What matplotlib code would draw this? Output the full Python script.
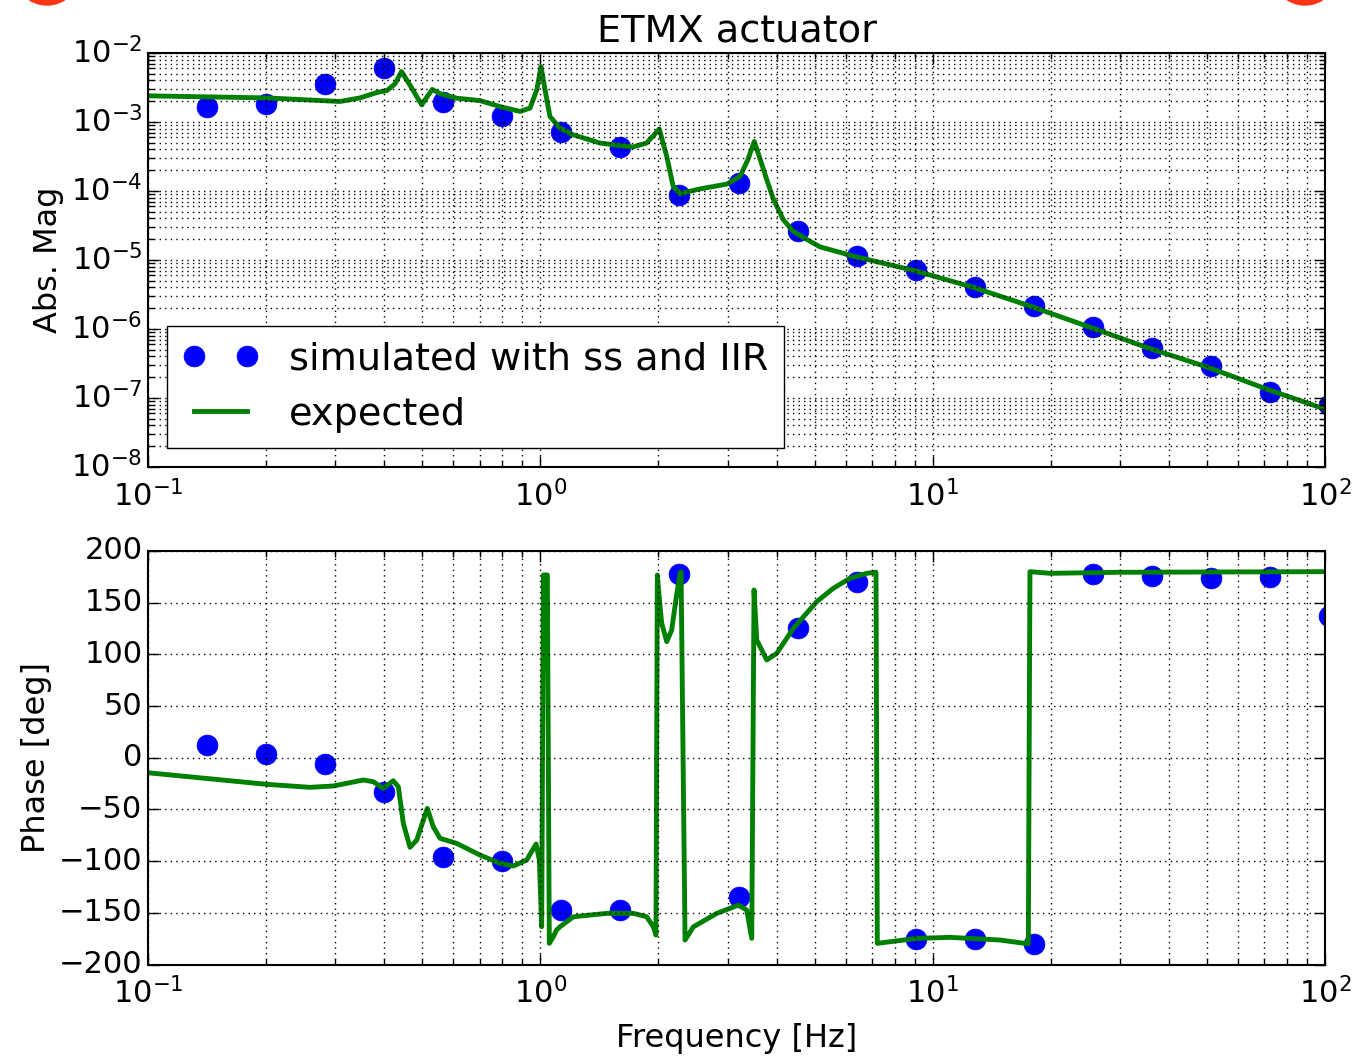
import matplotlib
from matplotlib import pyplot as plt
from matplotlib.patches import Circle
import numpy as np
plt.style.use('classic')
plt.switch_backend('agg')

# simulated points (blue dots)
sim_freq = [0.1414, 0.2, 0.2828, 0.4, 0.5657, 0.8, 1.131, 1.6, 2.263, 3.2,
            4.525, 6.4, 9.051, 12.8, 18.1, 25.6, 36.2, 51.2, 72.41, 102.4]
sim_mag = [1.66e-3, 1.83e-3, 3.56e-3, 6.07e-3, 1.96e-3, 1.23e-3, 7.1e-4, 4.3e-4,
           8.7e-5, 1.31e-4, 2.63e-5, 1.13e-5, 7.1e-6, 4.0e-6, 2.14e-6, 1.07e-6,
           5.3e-7, 2.9e-7, 1.22e-7, 7.9e-8]
sim_phase = [12, 4, -6, -33.5, -95.6, -99.5, -147.7, -147, 177.5, -134.8,
             125.5, 170.4, -175.3, -175.3, -179.8, 177.5, 176.2, 174.3, 175, 137.3]

# expected magnitude (green line)
exp_mag_freq = [0.1, 0.2014, 0.3086, 0.3468, 0.3831, 0.4063, 0.426, 0.4427, 0.4649,
                0.4985, 0.5144, 0.5302, 0.5565, 0.6118, 0.7018, 0.7893, 0.8877,
                0.9414, 0.9792, 1.004, 1.028, 1.058, 1.122, 1.211, 1.419, 1.722,
                1.866, 2.01, 2.10, 2.18, 2.27, 2.55, 2.99, 3.23, 3.38, 3.51, 3.70,
                3.776, 3.93, 4.16, 4.41, 4.78, 5.16, 6.34, 8.96, 12.7, 17.8, 25.2,
                35.6, 50.3, 71.2, 100]
exp_mag = [2.39e-3, 2.23e-3, 1.98e-3, 2.23e-3, 2.67e-3, 2.85e-3, 3.56e-3, 5.37e-3,
           3.44e-3, 1.77e-3, 2.31e-3, 2.96e-3, 2.55e-3, 2.21e-3, 2.04e-3, 1.67e-3,
           1.42e-3, 1.59e-3, 2.92e-3, 6.34e-3, 2.92e-3, 1.20e-3, 8.15e-4, 6.53e-4,
           4.95e-4, 4.34e-4, 4.95e-4, 7.89e-4, 3.17e-4, 1.17e-4, 9.16e-5, 1.07e-4,
           1.26e-4, 1.63e-4, 2.84e-4, 5.22e-4, 2.1e-4,
           1.46e-4, 7.5e-5, 3.85e-5, 2.61e-5, 1.98e-5, 1.55e-5,
           1.12e-5, 7.05e-6, 4.01e-6, 2.13e-6, 1.06e-6, 5.26e-7, 2.79e-7, 1.34e-7, 6.9e-8]

# expected phase (green line)
exp_ph_freq = [0.1, 0.2007, 0.2588, 0.2967, 0.3538, 0.3753, 0.3977, 0.4218, 0.4345,
               0.4474, 0.4654, 0.4841, 0.515, 0.5334, 0.555, 0.6118, 0.7018, 0.7893,
               0.8533, 0.9231, 0.975, 0.994, 1.008, 1.018, 1.042, 1.054, 1.079, 1.100,
               1.122, 1.214, 1.476, 1.726, 1.867, 1.941, 1.971, 1.987, 2.02, 2.039,
               2.1, 2.162, 2.22, 2.27, 2.284, 2.338, 2.455, 2.817, 3.197, 3.358, 3.458,
               3.505, 3.561, 3.776, 4.005, 4.415, 5.065, 5.58, 6.157, 6.79, 7.171,
               7.226, 9.107, 11.07, 14.85, 17.53, 17.7, 19.91, 29.45, 100]
exp_phase = [-14.5, -25.7, -28.6, -27.3, -21.5, -23.2, -29.6, -22.2, -28.0,
             -63.4, -86.6, -79.6, -48.9, -66.7, -77.9, -82.8, -94.1, -102.1,
             -104.7, -98.9, -83.4, -98.9, -163.5, 176.8, 176.8, -179.5, -173.1, -166.6,
             -163.5, -153.8, -150.5, -150.5, -153.8, -163.5, -171.5, 176.8, 145, 130,
             112.3, 123.6, 155, 178.4, 179.9, -176.3, -163.5, -150.5, -142.5, -147.3,
             -174.7, 162.3, 113.9, 94.6, 101, 125.2, 151, 163.9, 173.6, 178.4, 179.5,
             -179.5, -174.7, -173.7, -176.3, -180, 180, 178.4, 179.4, 180]

plt.rcParams['font.family'] = 'DejaVu Sans'
plt.rcParams['mathtext.fontset'] = 'dejavusans'
plt.rcParams['axes.linewidth'] = 1.5
plt.rcParams['grid.linewidth'] = 1.0
plt.rcParams['xtick.labelsize'] = 22
plt.rcParams['ytick.labelsize'] = 22

fig = plt.figure(figsize=(13.53, 10.59), dpi=100, facecolor='white')
ax1 = fig.add_axes([0.1094, 0.559, 0.8699, 0.391])
ax2 = fig.add_axes([0.1094, 0.0892, 0.8699, 0.3905])

ax1.loglog(sim_freq, sim_mag, 'o', color='b', mec='b', ms=15, label='simulated with ss and IIR')
ax1.loglog(exp_mag_freq, exp_mag, '-', color='g', lw=3.5, label='expected')
ax1.set_xlim(0.1, 100)
ax1.set_ylim(1e-8, 1e-2)
ax1.grid(True, which='both', color='k', linestyle=':')
ax1.set_ylabel('Abs. Mag', fontsize=23)
ax1.set_title('ETMX actuator', fontsize=27.5, pad=8)
ax1.legend(loc='lower left', numpoints=2, fontsize=27.5, handlelength=2.0,
           handletextpad=0.8, borderaxespad=0.5, fancybox=False)

ax2.semilogx(sim_freq, sim_phase, 'o', color='b', mec='b', ms=15)
ax2.semilogx(exp_ph_freq, exp_phase, '-', color='g', lw=3.5)
ax2.set_xlim(0.1, 100)
ax2.set_ylim(-200, 200)
ax2.set_yticks(np.arange(-200, 201, 50))
ax2.grid(True, which='major', color='k', linestyle=':')
ax2.xaxis.grid(True, which='minor', color='k', linestyle=':')
ax2.set_ylabel('Phase [deg]', fontsize=23)
ax2.set_xlabel('Frequency [Hz]', fontsize=23, labelpad=10)

for ax in (ax1, ax2):
    ax.tick_params(which='major', length=8, width=1)
    ax.tick_params(which='minor', length=4, width=1)
    ax.tick_params(axis='x', which='major', pad=9)

# red blobs cut off at the top edge
for cx in (0.47, 13.05):
    fig.patches.append(Circle((cx, 10.87), 0.33, color='#ff3514',
                              transform=fig.dpi_scale_trans))

plt.savefig('out.png', dpi=100, facecolor='white')
